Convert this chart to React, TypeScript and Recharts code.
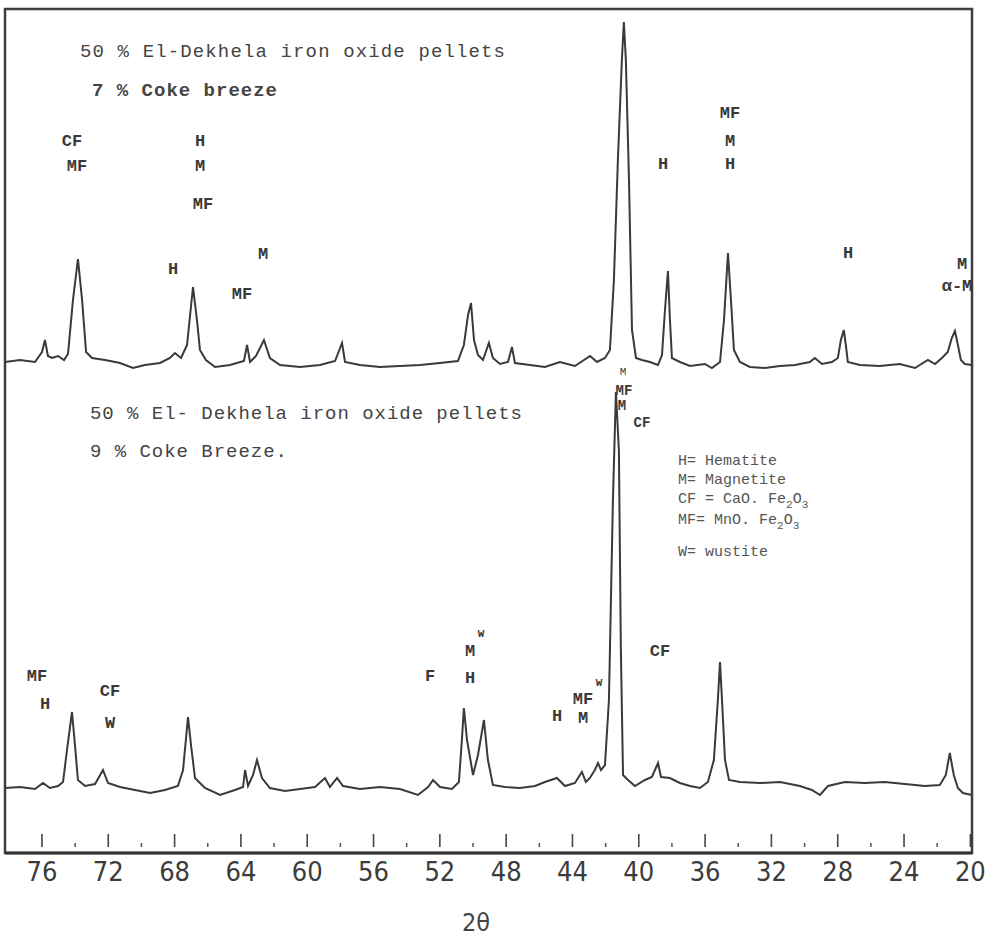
import { LineChart, Line, XAxis, YAxis, ReferenceArea } from "recharts"

// 2-theta (deg) vs relative intensity above each trace baseline (arbitrary units)
const UPPER_SCAN: [number, number][] = [
  [78.23, 1], [77.33, 3], [76.42, 1], [76.0, 11], [75.82, 23], [75.64, 7], [75.4, 5],
  [75.03, 7], [74.67, 3], [74.43, 9], [74.13, 63], [73.83, 104], [73.58, 63], [73.34, 11],
  [72.98, 5], [72.2, 3], [71.29, 0], [70.51, -5], [69.79, -2], [68.88, 0], [68.28, 5],
  [67.98, 10], [67.61, 5], [67.25, 18], [66.89, 76], [66.65, 43], [66.47, 13], [66.11, 3],
  [65.56, -4], [64.66, -2], [63.82, 2], [63.63, 18], [63.45, 1], [63.09, 7], [62.61, 23],
  [62.25, 5], [61.64, -2], [60.44, -4], [59.23, -2], [58.32, 2], [57.9, 20], [57.72, 1],
  [56.82, -2], [55.61, -4], [54.41, -3], [53.2, -2], [52.0, 0], [50.91, 2], [50.55, 18],
  [50.3, 48], [50.12, 60], [49.94, 23], [49.7, 8], [49.4, 3], [49.04, 20], [48.8, 5],
  [48.37, -1], [47.89, 1], [47.65, 16], [47.47, 0], [46.56, -2], [45.66, -4], [44.76, 1],
  [43.85, -3], [42.94, 7], [42.52, 1], [42.04, 5], [41.74, 13], [41.5, 83], [41.26, 203],
  [41.02, 303], [40.9, 341], [40.78, 303], [40.59, 183], [40.41, 33], [40.17, 5], [39.81, 3],
  [39.33, 1], [38.84, -2], [38.6, 8], [38.42, 53], [38.24, 92], [38.12, 43], [38.0, 5],
  [37.52, 1], [36.91, -3], [36.01, -1], [35.59, -5], [35.1, 1], [34.86, 43], [34.62, 110],
  [34.44, 63], [34.26, 13], [33.9, 1], [33.3, -4], [32.39, -5], [31.48, -3], [30.58, -2],
  [29.68, 1], [29.38, 5], [28.95, -1], [28.35, 1], [27.99, 5], [27.81, 23], [27.63, 33],
  [27.51, 18], [27.39, 1], [26.66, -2], [25.46, -3], [24.25, -1], [23.34, -5], [22.56, 3],
  [22.13, -1], [21.72, 5], [21.36, 11], [21.12, 25], [20.93, 32], [20.75, 18], [20.57, 3],
  [20.33, -1], [19.91, -2],
]

const LOWER_SCAN: [number, number][] = [
  [78.23, 0], [77.33, 1], [76.42, -1], [75.94, 5], [75.52, 0], [75.03, 2], [74.73, 6],
  [74.49, 38], [74.19, 76], [74.01, 43], [73.83, 8], [73.4, 2], [72.8, 4], [72.32, 18],
  [72.02, 5], [71.29, 1], [70.39, -2], [69.48, -5], [68.58, -2], [67.8, 2], [67.49, 18],
  [67.19, 71], [67.01, 43], [66.77, 10], [66.17, 0], [65.26, -7], [64.36, -2], [63.87, 1],
  [63.75, 18], [63.57, 2], [63.27, 13], [63.03, 28], [62.73, 10], [62.25, 0], [61.34, -3],
  [60.44, -1], [59.53, 1], [58.93, 10], [58.63, 1], [58.2, 10], [57.84, 2], [56.82, -1],
  [55.61, 1], [54.41, -1], [53.32, -7], [52.71, 1], [52.41, 8], [51.99, 1], [51.27, -1],
  [50.85, 6], [50.67, 48], [50.55, 80], [50.36, 48], [50.0, 13], [49.7, 33], [49.34, 68],
  [49.1, 28], [48.8, 3], [48.07, 1], [47.17, 0], [46.26, 2], [45.66, 6], [44.94, 10],
  [44.45, 2], [43.85, 5], [43.43, 16], [43.19, 6], [42.95, 10], [42.65, 18], [42.46, 25],
  [42.28, 18], [42.04, 23], [41.8, 88], [41.56, 288], [41.38, 396], [41.2, 338], [41.08, 138],
  [40.95, 13], [40.65, 8], [40.23, 2], [39.63, 8], [39.21, 11], [38.84, 25], [38.66, 11],
  [38.12, 10], [37.52, 5], [36.91, 2], [36.31, 0], [35.83, 6], [35.47, 28], [35.23, 88],
  [35.1, 126], [34.98, 88], [34.8, 28], [34.56, 8], [33.9, 6], [32.69, 5], [31.48, 6],
  [30.28, 2], [29.56, -2], [29.07, -7], [28.59, 2], [27.57, 6], [26.36, 5], [25.16, 6],
  [23.95, 4], [22.74, 2], [21.84, 3], [21.48, 13], [21.24, 35], [21.0, 13], [20.75, 0],
  [20.45, -5], [19.91, -7],
]

const UPPER_OFFSET = 490
const LOWER_OFFSET = 65

const MAJOR_TICKS = [76, 72, 68, 64, 60, 56, 52, 48, 44, 40, 36, 32, 28, 24, 20]
const MINOR_TICKS = [74, 70, 66, 62, 58, 54, 50, 46, 42, 38, 34, 30, 26, 22]

const upperData = UPPER_SCAN.map(([theta, i]) => ({ theta, v: i + UPPER_OFFSET }))
const lowerData = LOWER_SCAN.map(([theta, i]) => ({ theta, v: i + LOWER_OFFSET }))

const X_DOMAIN: [number, number] = [19.9, 78.23]
const Y_DOMAIN: [number, number] = [0, 844]
const INK = "#3a3a3a"
const MONO = "'Liberation Mono', 'DejaVu Sans Mono', monospace"
const NARROW = "'Liberation Sans Narrow', 'DejaVu Sans Condensed', sans-serif"

// phase labels: [text, x, y]
const UPPER_PHASES: [string, number, number][] = [
  ["CF", 72, 146], ["MF", 77, 171], ["H", 200, 146], ["M", 200, 171], ["MF", 203, 209],
  ["H", 173, 274], ["M", 263, 259], ["MF", 242, 299],
  ["MF", 730, 118], ["M", 730, 146], ["H", 730, 169], ["H", 663, 169],
  ["H", 848, 258], ["M", 962, 269], ["α-M", 957, 291],
]
const LOWER_PHASES: [string, number, number][] = [
  ["MF", 37, 681], ["H", 45, 709], ["CF", 110, 696], ["W", 110, 728], ["F", 430, 681],
  ["M", 470, 656], ["H", 470, 683], ["H", 557, 721], ["MF", 583, 704], ["M", 583, 723],
  ["CF", 660, 656],
]

function AxisTick({ x, y, payload }: any) {
  const major = MAJOR_TICKS.includes(payload.value)
  return (
    <g>
      {major ? (
        <>
          <line x1={x} x2={x} y1={y - 19} y2={y - 6} stroke="#444" strokeWidth={1.6} />
          <text x={x} y={y + 28} textAnchor="middle" fontFamily={NARROW} fontSize={27} fill="#3c3c3c">
            {payload.value}
          </text>
        </>
      ) : (
        <line x1={x} x2={x} y1={y - 10} y2={y - 6} stroke="#555" strokeWidth={1.5} />
      )}
    </g>
  )
}

function Sub({ children }: { children: string }) {
  return <tspan fontSize={11} dy={5}>{children}</tspan>
}

export default function App() {
  return (
    <div style={{ position: "absolute", left: 0, top: 0, width: 995, height: 937, background: "#fff" }}>
      <LineChart width={995} height={937} margin={{ top: 9, right: 23, bottom: 44, left: 5 }}>
        <XAxis
          dataKey="theta" type="number" domain={X_DOMAIN} reversed allowDataOverflow
          ticks={[...MAJOR_TICKS, ...MINOR_TICKS].sort((a, b) => b - a)}
          tick={<AxisTick />} tickLine={false} tickSize={0} tickMargin={0} interval={0}
          height={40} axisLine={{ stroke: "#333", strokeWidth: 3 }}
        />
        <YAxis type="number" domain={Y_DOMAIN} allowDataOverflow hide />
        {/* plot frame */}
        <ReferenceArea x1={X_DOMAIN[0]} x2={X_DOMAIN[1]} y1={Y_DOMAIN[0]} y2={Y_DOMAIN[1]}
          fill="none" fillOpacity={0} stroke="#3d3d3d" strokeWidth={2.5} ifOverflow="visible" />
        <Line data={upperData} dataKey="v" type="linear" stroke={INK} strokeWidth={2} dot={false}
          isAnimationActive={false} />
        <Line data={lowerData} dataKey="v" type="linear" stroke={INK} strokeWidth={2} dot={false}
          isAnimationActive={false} />
      </LineChart>

      <svg width={995} height={937} style={{ position: "absolute", left: 0, top: 0, pointerEvents: "none" }}>
        <g fontFamily={MONO} fill="#444">
          <text x={80} y={57} fontSize={19} textLength={425} lengthAdjust="spacing">50 % El-Dekhela iron oxide pellets</text>
          <text x={92} y={96} fontSize={19} fontWeight="bold" textLength={185} lengthAdjust="spacing">7 % Coke breeze</text>
          <text x={90} y={419} fontSize={19} textLength={432} lengthAdjust="spacing">50 % El- Dekhela iron oxide pellets</text>
          <text x={90} y={457} fontSize={19} textLength={197} lengthAdjust="spacing">9 % Coke Breeze.</text>
        </g>
        <g fontFamily={MONO} fontSize={17} fontWeight="bold" fill="#3a3a3a" textAnchor="middle">
          {UPPER_PHASES.map(([t, x, y], i) => (
            <text key={"u" + i} x={x} y={y}>{t}</text>
          ))}
          {LOWER_PHASES.map(([t, x, y], i) => (
            <text key={"l" + i} x={x} y={y}>{t}</text>
          ))}
          <text x={481} y={637} fontSize={11}>W</text>
          <text x={599} y={686} fontSize={11}>W</text>
          <text x={623} y={375} fontSize={11} fontWeight="normal">M</text>
        </g>
        {/* stacked labels crowding the top of the strongest lower peak */}
        <g fontFamily={MONO} fontSize={14} fontWeight="bold" fill="#3a3a3a" textAnchor="middle">
          <text x={624} y={395}>MF</text>
          <text x={622} y={410}>M</text>
          <text x={642} y={427}>CF</text>
        </g>
        <g fontFamily={MONO} fontSize={15} fill="#555">
          <text x={678} y={465}>H= Hematite</text>
          <text x={678} y={484}>M= Magnetite</text>
          <text x={678} y={503}>CF = CaO. Fe<Sub>2</Sub><tspan dy={-5}>O</tspan><Sub>3</Sub></text>
          <text x={678} y={524}>MF= MnO. Fe<Sub>2</Sub><tspan dy={-5}>O</tspan><Sub>3</Sub></text>
          <text x={678} y={556}>W= wustite</text>
        </g>
        <text x={476} y={931} textAnchor="middle" fontFamily={NARROW} fontSize={25} fill="#444">2θ</text>
      </svg>
    </div>
  )
}
